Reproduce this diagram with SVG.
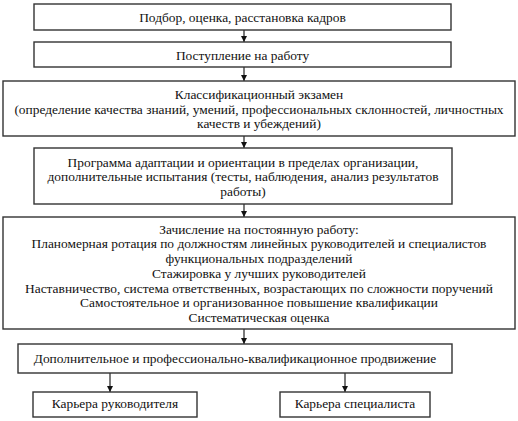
<svg xmlns="http://www.w3.org/2000/svg" width="518" height="421" viewBox="0 0 518 421">
<defs>
<style>
.box{fill:#fff;stroke:#333;stroke-width:1.4}
.c{stroke:#222;stroke-width:1.2;fill:none}
</style>
<marker id="ah" viewBox="0 0 8 8" refX="8" refY="4" markerWidth="6" markerHeight="6" markerUnits="userSpaceOnUse" orient="auto">
<path d="M0,0 L8,4 L0,8 Z" fill="#111"/>
</marker>
</defs>
<rect width="518" height="421" fill="#fff"/>
<g id="connectors">
<line class="c" x1="244" y1="30" x2="244" y2="42" marker-end="url(#ah)"/>
<line class="c" x1="244" y1="67" x2="244" y2="81" marker-end="url(#ah)"/>
<line class="c" x1="244" y1="136" x2="244" y2="148" marker-end="url(#ah)"/>
<line class="c" x1="244" y1="204" x2="244" y2="217" marker-end="url(#ah)"/>
<line class="c" x1="244" y1="329" x2="244" y2="344" marker-end="url(#ah)"/>
<line class="c" x1="110" y1="373" x2="110" y2="392" marker-end="url(#ah)"/>
<line class="c" x1="345" y1="373" x2="345" y2="392" marker-end="url(#ah)"/>
</g>
<g font-family="'Times New Roman', 'Liberation Serif', Tinos, 'DejaVu Serif', serif" font-size="13.4" fill="#111" text-anchor="middle">
<g id="n1">
<rect class="box" x="34" y="4" width="417" height="26"/>
<text x="242.5" y="21.5">Подбор, оценка, расстановка кадров</text>
</g>
<g id="n2">
<rect class="box" x="34" y="42" width="417" height="25"/>
<text x="242.5" y="59.5">Поступление на работу</text>
</g>
<g id="n3">
<rect class="box" x="3" y="81" width="512" height="55"/>
<text x="259" y="98.5">Классификационный экзамен</text>
<text x="259" y="113.5">(определение качества знаний, умений, профессиональных склонностей, личностных</text>
<text x="259" y="128">качеств и убеждений)</text>
</g>
<g id="n4">
<rect class="box" x="34" y="148" width="418" height="56"/>
<text x="243" y="166.5">Программа адаптации и ориентации в пределах организации,</text>
<text x="243" y="181">дополнительные испытания (тесты, наблюдения, анализ результатов</text>
<text x="243" y="195.5">работы)</text>
</g>
<g id="n5">
<rect class="box" x="3" y="217" width="512" height="112"/>
<text x="259" y="233.5">Зачисление на постоянную работу:</text>
<text x="259" y="248">Планомерная ротация по должностям линейных руководителей и специалистов</text>
<text x="259" y="263">функциональных подразделений</text>
<text x="259" y="277.5">Стажировка у лучших руководителей</text>
<text x="259" y="292.5">Наставничество, система ответственных, возрастающих по сложности поручений</text>
<text x="259" y="307">Самостоятельное и организованное повышение квалификации</text>
<text x="259" y="322">Систематическая оценка</text>
</g>
<g id="n6">
<rect class="box" x="18" y="344" width="434" height="29"/>
<text x="235" y="362.5">Дополнительное и профессионально-квалификационное продвижение</text>
</g>
<g id="n7">
<rect class="box" x="33" y="392" width="164" height="25"/>
<text x="115" y="407.5">Карьера руководителя</text>
</g>
<g id="n8">
<rect class="box" x="280" y="392" width="150" height="25"/>
<text x="355" y="407.5">Карьера специалиста</text>
</g>
</g>
</svg>
